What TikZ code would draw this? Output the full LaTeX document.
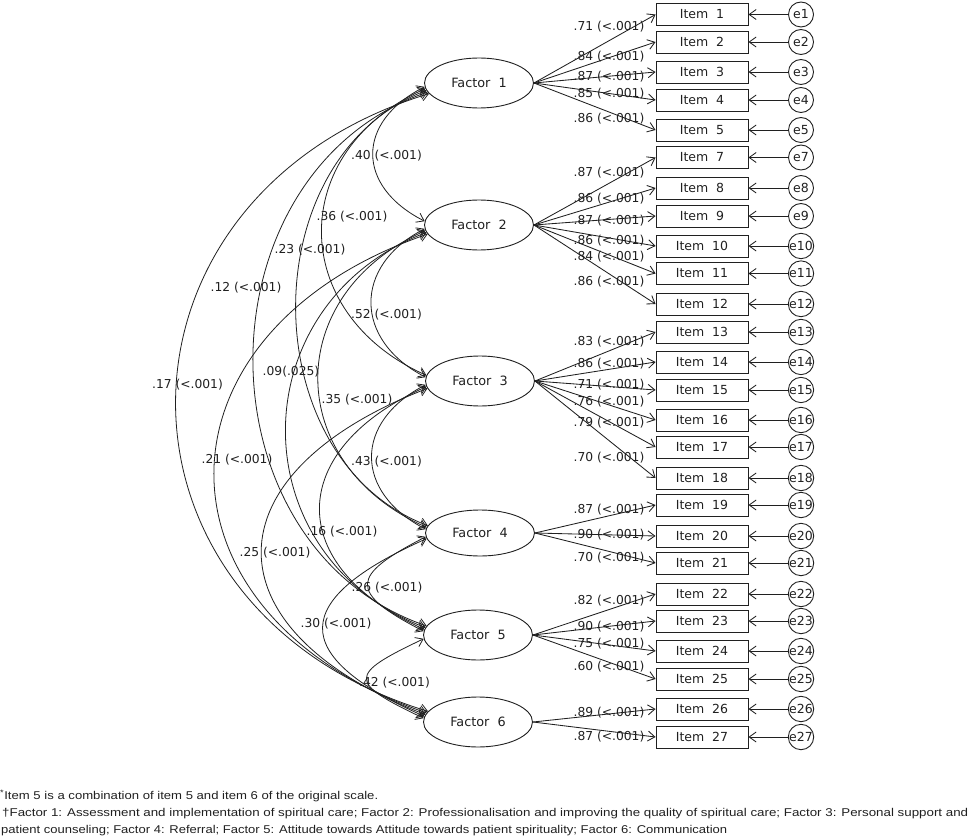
\documentclass[tikz,border=0pt]{standalone}
\usepackage{fontspec}
\usepackage{graphicx}
\setmainfont{DejaVu Sans}
\newfontfamily\notefont{Liberation Sans}
\usetikzlibrary{arrows.meta,shapes.geometric}
\definecolor{ink}{RGB}{32,32,32}
\begin{document}
\begin{tikzpicture}[x=1pt,y=-1pt,
  >={Straight Barb[length=7pt,width=10pt]},
  every node/.style={text=ink},
  fac/.style={ellipse,draw=ink,line width=0.9pt,minimum width=109pt,minimum height=50pt,inner sep=0pt,font=\fontsize{12.8}{15}\selectfont},
  itm/.style={rectangle,draw=ink,line width=0.9pt,minimum width=92pt,minimum height=22pt,inner sep=0pt,font=\fontsize{12.5}{15}\selectfont},
  err/.style={circle,draw=ink,line width=0.9pt,minimum size=25pt,inner sep=0pt,font=\fontsize{12.5}{15}\selectfont},
  lbl/.style={inner sep=0pt,font=\fontsize{12.3}{15}\selectfont},
  note/.style={anchor=base west,inner sep=0pt,font=\notefont\fontsize{11.3}{13}\selectfont},
  load/.style={draw=ink,line width=0.85pt,->},
  cov/.style={draw=ink,line width=0.8pt,<->}]
\path[use as bounding box] (0,0) rectangle (969,837);

% factors
\node[fac] (F1) at (479,83) {Factor~~1};
\node[fac] (F2) at (479,225) {Factor~~2};
\node[fac] (F3) at (480,381) {Factor~~3};
\node[fac,minimum height=46pt] (F4) at (480,533) {Factor~~4};
\node[fac] (F5) at (478,635) {Factor~~5};
\node[fac] (F6) at (478,722) {Factor~~6};

% items, errors, loadings
\foreach \f/\n/\y/\v/\ly in {
  1/1/14.5/.71/27, 1/2/42/.84/57, 1/3/72/.87/77, 1/4/100/.85/94, 1/5/130/.86/119,
  2/7/157.5/.87/173, 2/8/188/.86/199, 2/9/216/.87/221, 2/10/246/.86/241, 2/11/273.5/.84/257, 2/12/304/.86/282,
  3/13/332/.83/342, 3/14/362/.86/364, 3/15/390/.71/385, 3/16/420/.76/402, 3/17/447/.79/423, 3/18/478/.70/458,
  4/19/505/.87/510, 4/20/536/.90/535, 4/21/563/.70/558,
  5/22/594/.82/601, 5/23/621/.90/627, 5/24/651/.75/644, 5/25/679/.60/667,
  6/26/709/.89/713, 6/27/737/.87/737}{
  \node[itm] (I\n) at (702,\y) {Item~~\n};
  \node[err] (e\n) at (801,\y) {e\n};
  \draw[load] (e\n) -- (I\n);
  \draw[load] (F\f.east) -- (I\n.west);
  \node[lbl] (L\n) at (609,\ly) {\v\ (<.001)};
}

% covariances: adjacent
\draw[cov] (F1.184) .. controls +(-69,35) and +(-69,-35) .. (F2.176);
\draw[cov] (F2.184) .. controls +(-72,37) and +(-72,-37) .. (F3.176);
\draw[cov] (F3.184) .. controls +(-72,37) and +(-72,-37) .. (F4.176);
\draw[cov] (F4.184) .. controls +(-76,39) and +(-76,-39) .. (F5.176);
\draw[cov] (F5.184) .. controls +(-76,36) and +(-76,-36) .. (F6.176);
% gap 2
\draw[cov] (F1.186) .. controls +(-139,62) and +(-139,-62) .. (F3.174);
\draw[cov] (F2.186) .. controls +(-144,64) and +(-144,-64) .. (F4.174);
\draw[cov] (F3.186) .. controls +(-141,63) and +(-141,-63) .. (F5.174);
\draw[cov] (F4.186) .. controls +(-137,61) and +(-137,-61) .. (F6.174);
% gap 3
\draw[cov] (F1.188) .. controls +(-175,67) and +(-175,-67) .. (F4.172);
\draw[cov] (F2.188) .. controls +(-187,72) and +(-187,-72) .. (F5.172);
\draw[cov] (F3.188) .. controls +(-220,85) and +(-220,-85) .. (F6.172);
% gap 4
\draw[cov] (F1.190) .. controls +(-232,80) and +(-232,-80) .. (F5.170);
\draw[cov] (F2.190) .. controls +(-284,98) and +(-284,-98) .. (F6.170);
% gap 5
\draw[cov] (F1.192) .. controls +(-337,103) and +(-337,-103) .. (F6.168);

% covariance labels
\node[lbl] (c12) at (386.5,156) {.40 (<.001)};
\node[lbl] (c13) at (352,217) {.36 (<.001)};
\node[lbl] (c14) at (310,250) {.23 (<.001)};
\node[lbl] (c15) at (246,288) {.12 (<.001)};
\node[lbl] (c23) at (386.5,315) {.52 (<.001)};
\node[lbl] (c25) at (291,372) {.09(.025)};
\node[lbl] (c16) at (187.5,385) {.17 (<.001)};
\node[lbl] (c24) at (357,400) {.35 (<.001)};
\node[lbl] (c26) at (237,460) {.21 (<.001)};
\node[lbl] (c34) at (386.5,462) {.43 (<.001)};
\node[lbl] (c35) at (342,532) {.16 (<.001)};
\node[lbl] (c36) at (275,553) {.25 (<.001)};
\node[lbl] (c45) at (387,588) {.26 (<.001)};
\node[lbl] (c46) at (336,624) {.30 (<.001)};
\node[lbl] (c56) at (394.5,683) {.42 (<.001)};

% footnotes
\node[note] (n1) at (0,799) {\resizebox{378pt}{\height}{\textsuperscript{*}Item 5 is a combination of item 5 and item 6 of the original scale.}};
\node[note] (n2) at (2,816) {\resizebox{966pt}{\height}{†Factor 1: Assessment and implementation of spiritual care; Factor 2: Professionalisation and improving the quality of spiritual care; Factor 3: Personal support and}};
\node[note] (n3) at (1,833) {\resizebox{726pt}{\height}{patient counseling; Factor 4: Referral; Factor 5: Attitude towards Attitude towards patient spirituality; Factor 6: Communication}};
\end{tikzpicture}
\end{document}
